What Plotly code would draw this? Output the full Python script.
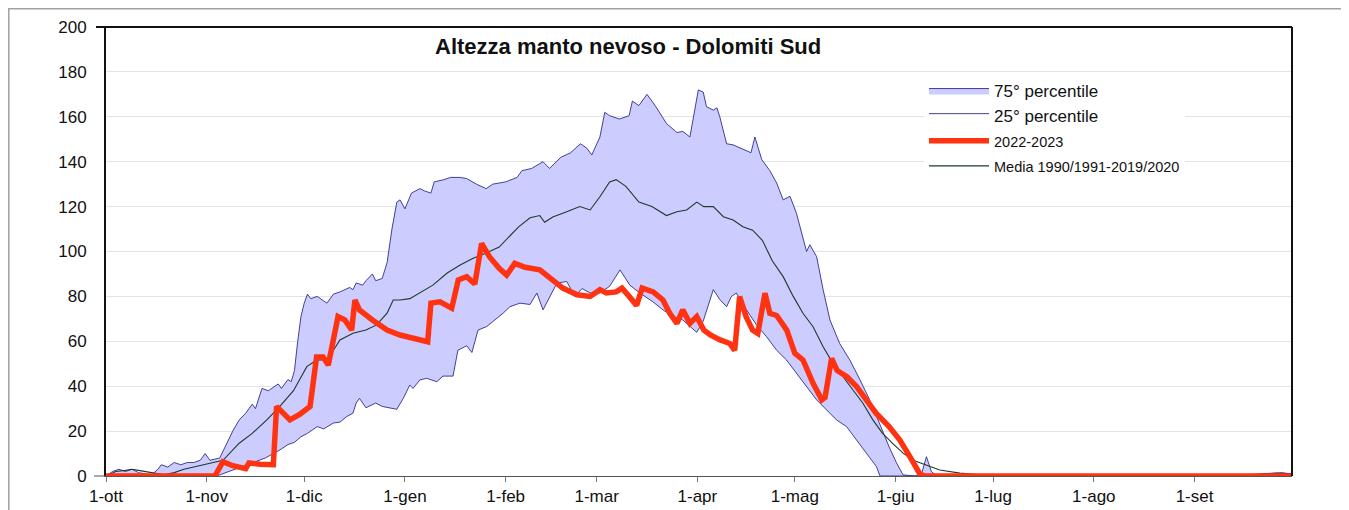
import pandas as pd
import plotly.graph_objects as go

# ---------------- data (day offset from 1 October 2022, snow depth cm) ----------------
month_labels = ["1-ott", "1-nov", "1-dic", "1-gen", "1-feb", "1-mar", "1-apr",
                "1-mag", "1-giu", "1-lug", "1-ago", "1-set"]

p75_days = [0, 2, 4, 6, 8, 10, 12, 14, 16, 17, 19, 21, 23, 25, 27, 29, 30.5, 32, 35, 37, 39, 41, 43, 45, 46,
            48, 50, 52, 53, 54, 56, 57, 58, 59, 60, 61, 62, 63, 65, 67, 68, 70, 72, 75, 76, 77, 79, 80, 82,
            83, 85, 86.5, 88, 89.5, 90.5, 92, 94, 96.6, 98, 100, 101, 104, 106, 109, 111, 114, 117, 119, 123,
            126.5, 128, 131, 134.5, 136.5, 140, 143, 146, 148, 149.5, 152, 153.5, 155, 158, 161, 162, 164,
            166.5, 169, 172.5, 175.7, 177.5, 179.7, 182.3, 183.8, 184.8, 186.9, 188, 188.9, 191, 193, 197.1,
            198.5, 199.7, 201.8, 204.3, 206.4, 208.4, 210.5, 212.5, 215.6, 216.6, 218.7, 220.7, 222.8, 225.8,
            228.9, 232, 235, 238, 241, 243.3, 245.3, 249, 251, 252.5, 254, 255.6, 300, 340, 350, 358, 362, 365]
p75_vals = [0, 2, 3, 2, 3, 1.5, 1, 0.5, 3, 5, 4, 6, 5, 6, 6, 7, 10, 7, 8, 14, 20, 25, 28, 32, 30,
            39, 38, 40, 41, 39, 43, 42, 47, 60, 71, 77, 81, 79, 80, 78, 77, 81, 82, 84, 83, 86, 85, 87, 90,
            87, 88, 95, 110, 122, 123, 119, 126, 128, 127, 126, 131, 132, 133, 133, 132.5, 130, 128, 130, 131,
            133, 136, 137, 140, 137, 142, 144, 148, 146, 143, 151, 162, 160.5, 159, 160.5, 167, 165,
            170, 165, 157, 153, 153.5, 151, 172, 171, 164.5, 163, 164, 160, 148, 147.5, 145,
            144, 151, 141, 136, 130.5, 123, 124.6, 117, 100, 103, 97.7, 83, 69.5, 59,
            51.7, 43, 34, 23.6, 13, 5.8, 0.5, 0, 1, 8.6, 2, 0, 0, 0.3, 0.5, 1, 1.5, 0.8]

p25_days = [0, 34, 35, 39, 42, 46, 49, 51.5, 53.5, 56, 58, 60, 62, 65, 67, 70, 72, 74, 76, 77, 78, 80, 83,
            85, 87, 89.5, 91.5, 93.5, 94.5, 96.6, 98.7, 101.8, 103.7, 106.8, 108.3, 111, 112.6, 114.5, 117.2,
            119.7, 122.2, 124.3, 127.4, 130.5, 132.6, 134.5, 136.6, 138.8, 141.8, 144.3, 146.5, 149, 152, 155,
            158.2, 161.2, 164.3, 168.3, 171.4, 174.5, 177.5, 180.3, 181.8, 183.8, 186.9, 188.9, 191, 192.5,
            194, 197.1, 200.2, 203.3, 206.4, 209.4, 212.5, 215.6, 218.7, 221.8, 224.8, 227.9, 231, 234, 237.1,
            238.2, 365]
p25_vals = [0, 0, 0.5, 2.7, 4, 6.4, 8, 10, 11.6, 14, 15, 17.5, 19, 22, 21, 23.6, 24, 26.4, 28, 32.5, 34.6, 30.4,
            32.5, 31, 30.4, 29.7, 34.6, 40.5, 39, 42.8, 43.5, 42, 44.5, 44.5, 56, 58, 55, 65, 66.6,
            69.5, 72.5, 75.4, 77, 76.4, 81.5, 74, 80, 86, 86.6, 80, 83.5, 81.5, 81.5, 84.5,
            91.8, 85, 81.5, 77.6, 74, 71, 69.5, 66, 64, 69, 83, 78.6, 75.4, 80,
            81.5, 74, 67.3, 62, 56, 51.7, 45.8, 39.8, 33.9, 29.4, 25, 22, 16, 10.2, 4.2,
            0, 0]

media_days = [0, 3, 6, 8, 10, 12, 15, 18, 21, 24, 27, 30, 33, 36, 41, 45, 49.5, 53.5, 57.7, 61.8, 64.8, 68,
              70, 72, 76, 80, 83.3, 86.5, 88.4, 90.5, 93.5, 96.6, 100.6, 105, 109, 113, 117, 121, 124, 127,
              130.5, 133.5, 135, 137.5, 141.8, 145.8, 149, 152, 155, 157, 160, 164, 168, 172.5, 175.7, 178.7,
              181.8, 184, 186.9, 190, 193, 196, 199, 202, 205, 208.4, 211.5, 214.5, 217.6, 220.7, 223.7,
              226.8, 229.8, 232.9, 236, 239, 242, 245.3, 248.4, 252.5, 256.6, 262.8, 269, 300, 330, 345,
              355, 360, 365]
media_vals = [0, 2, 2.5, 3, 2.5, 2, 1, 0.5, 1.5, 3, 4, 5, 6, 7, 14.6, 19, 25, 31, 38, 48.7, 51.7, 51.7,
              56, 60.6, 63.6, 65, 67.3, 72.5, 78.4, 78.4, 79, 81.5, 85, 90.4, 94, 97, 99.3, 102, 106.6, 111,
              115, 116, 113, 115.4, 117.7, 120, 118.5, 124.4, 131, 132, 129, 122, 120, 116, 117.7, 118.5,
              122, 120, 120, 115.5, 114, 111, 109.5, 105, 96, 88.8, 80, 72.5, 66.5, 57.6, 50.2,
              44.2, 38.3, 32.5, 25, 19, 14.6, 10.2, 7, 4.9, 2.7, 1.3, 0.5, 0.3, 0.3, 0.5,
              0.8, 1.2, 1]

season_days = [0, 33.5, 36, 39, 43, 44, 47.4, 51.5, 52.5, 56.6, 59.7, 62.8, 64.8, 66.8, 68.4, 70, 71.4, 73.5,
               75.6, 76.6, 78, 82, 86.5, 90.5, 94.5, 99, 100, 102.8, 106.4, 108.4, 111, 113.5, 115.6, 118,
               121, 123.3, 125.8, 129, 133.5, 136.6, 140.6, 145, 149, 152, 154, 157, 158.8, 161, 163.3, 165,
               168.4, 171.4, 173.5, 175.7, 177.5, 179.7, 181.8, 184, 186, 189, 192, 193.5, 195, 197, 199,
               200.6, 202.8, 204.3, 206.4, 209.5, 212, 214.5, 217.6, 220.3, 221.3, 223.3, 225, 228, 231, 234,
               237, 241, 244.3, 247.4, 250.5, 252, 365]
season_vals = [0, 0, 6.4, 4.6, 3.3, 5.8, 5.2, 5, 31, 25, 27.5, 31, 53, 53, 49.4, 60.6, 71, 69.5,
               65, 78.4, 74, 69.5, 65, 62.8, 61.3, 59.8, 77, 77.6, 74.8, 87.3, 88.8, 85.5, 103.6, 97.7,
               92.5, 89.5, 94.7, 93, 91.8, 88, 83.7, 80.7, 80, 83, 81.5, 82, 83.7, 80, 76, 83.7,
               82, 78.4, 72.5, 68, 74, 68, 71, 65, 62.8, 60.6, 59, 56, 79.9, 71, 65,
               63.5, 81.4, 72.5, 71.5, 65, 54.6, 51.7, 41.3, 33.9, 35, 52.4, 47, 44.2, 39.8, 33.9,
               28, 22, 16, 8.6, 0.8, 0, 0]

# ---------------- figure ----------------
base = pd.Timestamp("2022-10-01")


def to_dates(days):
    return base + pd.to_timedelta(days, unit="D")


FONT = "Liberation Sans, Arial, sans-serif"
# the page body has an 8px margin: figure coords = page coords - 8
OFF = 8
W, H = 1341, 502
PLOT_L, PLOT_R, PLOT_T, PLOT_B = 106 - OFF, 1292 - OFF, 27 - OFF, 476 - OFF
PW, PH = PLOT_R - PLOT_L, PLOT_B - PLOT_T


def px(xp):  # page x -> paper
    return (xp - OFF - PLOT_L) / PW


def py(yp):  # page y -> paper
    return (PLOT_B - (yp - OFF)) / PH


fig = go.Figure()

fig.add_trace(go.Scatter(
    x=to_dates(p75_days), y=p75_vals, name="75° percentile", mode="lines",
    line=dict(color="#2E2E8A", width=0.9), fill="tozeroy", fillcolor="#CCCCFF",
    legendrank=1, hoverinfo="skip"))
fig.add_trace(go.Scatter(
    x=to_dates(p25_days), y=p25_vals, name="25° percentile", mode="lines",
    line=dict(color="#2E2E8A", width=0.9), fill="tozeroy", fillcolor="#FFFFFF",
    legendrank=2, hoverinfo="skip"))
fig.add_trace(go.Scatter(
    x=to_dates(media_days), y=media_vals,
    name="<span style='font-size:14.5px'>Media 1990/1991-2019/2020</span>", mode="lines",
    line=dict(color="#1C3A2A", width=1.1), legendrank=4, hoverinfo="skip"))
fig.add_trace(go.Scatter(
    x=to_dates(season_days), y=season_vals,
    name="<span style='font-size:14.5px'>2022-2023</span>", mode="lines",
    line=dict(color="#FF3311", width=5.5), legendrank=3, hoverinfo="skip"))

tick_dates = pd.date_range(base, periods=len(month_labels), freq="MS")

fig.update_layout(
    width=W, height=H,
    margin=dict(l=PLOT_L, r=W - PLOT_R, t=PLOT_T, b=H - PLOT_B, pad=0),
    paper_bgcolor="white", plot_bgcolor="white",
    font=dict(family=FONT, size=17, color="#111111"),
    showlegend=True,
    legend=dict(x=px(924), y=py(73), xanchor="left", yanchor="top", bgcolor="white",
                font=dict(size=17, family=FONT, color="#111111"),
                itemwidth=60, tracegroupgap=0, traceorder="normal"),
    xaxis=dict(type="date", range=[base, base + pd.Timedelta(days=365)],
               tickvals=tick_dates, ticktext=month_labels,
               showgrid=False, zeroline=False, automargin=False,
               showline=True, linecolor="#555555", linewidth=1,
               ticks="outside", ticklen=5, tickcolor="#777777",
               tickfont=dict(size=17, family=FONT, color="#111111")),
    yaxis=dict(range=[0, 200], tickvals=list(range(0, 201, 20)),
               showgrid=True, gridcolor="#E4E4E4", gridwidth=1,
               zeroline=False, showline=True, linecolor="#111111", linewidth=2,
               ticks="", ticklabelstandoff=14, automargin=False,
               tickfont=dict(size=17, family=FONT, color="#111111")),
    annotations=[dict(text="<b>Altezza manto nevoso - Dolomiti Sud</b>",
                      xref="paper", yref="paper",
                      x=px(628), y=py(47),
                      xanchor="center", yanchor="middle", showarrow=False,
                      font=dict(size=22, family=FONT, color="#111111"))],
    shapes=[
        # outer chart border
        dict(type="rect", xref="paper", yref="paper",
             x0=(0.8 - PLOT_L) / PW, x1=px(1345),
             y0=py(530), y1=(PLOT_B - 0.8) / PH,
             line=dict(color="#A0A0A0", width=1.5), layer="below"),
        # plot frame top & right
        dict(type="line", xref="paper", yref="paper", x0=px(96), x1=1, y0=1, y1=1,
             line=dict(color="#111111", width=2)),
        dict(type="line", xref="paper", yref="paper", x0=1, x1=1, y0=0, y1=1,
             line=dict(color="#111111", width=2)),
        dict(type="line", xref="paper", yref="paper", x0=px(94), x1=0, y0=0, y1=0,
             line=dict(color="#555555", width=1)),
    ],
)

fig.write_html("out.html")
